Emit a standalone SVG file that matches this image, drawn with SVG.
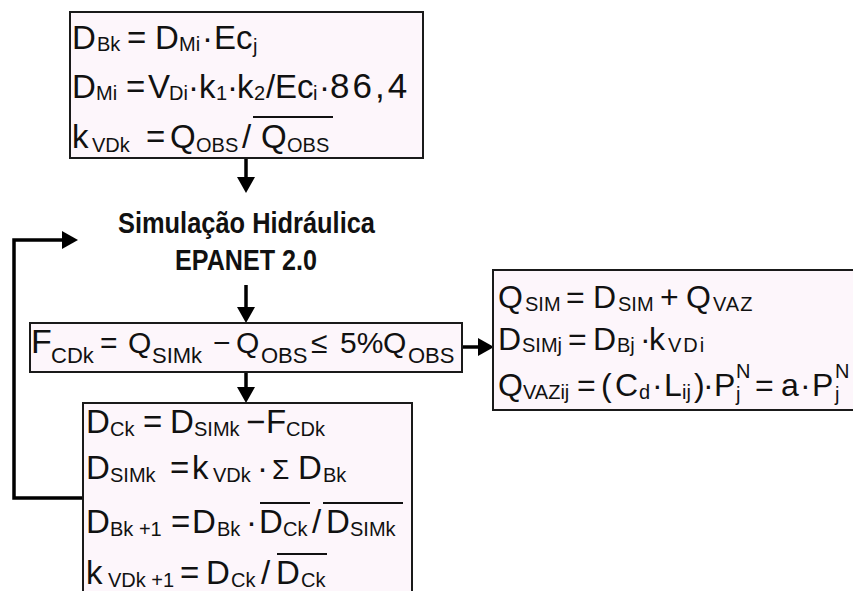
<svg xmlns="http://www.w3.org/2000/svg" width="853" height="591" viewBox="0 0 853 591">
<style>
.box{fill:#fdf6fb;stroke:#1a1a1a;stroke-width:2}
text{font-family:"Liberation Sans",Arial,sans-serif;fill:#111}
.m{font-size:33px}
.s{font-size:20px}
.f{font-size:30px}
.fs{font-size:22px}
.r{font-size:32px}
.t{font-size:29px;font-weight:bold}
.ol{stroke:#111;stroke-width:2}
.conn{fill:none;stroke:#000;stroke-width:3.5}
</style>
<defs>
<marker id="ah" viewBox="0 0 16 18" refX="0" refY="9" markerWidth="16" markerHeight="18" markerUnits="userSpaceOnUse" orient="auto">
<path d="M0,0 L16,9 L0,18 z" fill="#000"/>
</marker>
</defs>

<g id="connectors">
<path class="conn" d="M246 158 V177" marker-end="url(#ah)"/>
<path class="conn" d="M246 285 V307" marker-end="url(#ah)"/>
<path class="conn" d="M246 372 V387" marker-end="url(#ah)"/>
<path class="conn" d="M462 347 H478" marker-end="url(#ah)"/>
<path class="conn" d="M83 498 H14 V240 H62" marker-end="url(#ah)"/>
</g>

<g id="top">
<rect class="box" x="70" y="12" width="353" height="146"/>
<text class="m"><tspan x="72" y="49">D</tspan><tspan class="s" x="97" y="51">Bk</tspan><tspan x="127" y="49">=</tspan><tspan x="155" y="49">D</tspan><tspan class="s" x="179" y="51">Mi</tspan><tspan x="202" y="49">·</tspan><tspan x="214" y="49">Ec</tspan><tspan class="s" x="253" y="53">j</tspan></text>
<text class="m"><tspan x="72" y="98">D</tspan><tspan class="s" x="96" y="100">Mi</tspan><tspan x="126" y="98">=</tspan><tspan x="148" y="98">V</tspan><tspan class="s" x="169" y="100">Di</tspan><tspan x="188" y="98">·</tspan><tspan x="199" y="98">k</tspan><tspan class="s" x="216" y="100">1</tspan><tspan x="227" y="98">·</tspan><tspan x="237" y="98">k</tspan><tspan class="s" x="254" y="100">2</tspan><tspan x="266" y="98">/</tspan><tspan x="275" y="98">Ec</tspan><tspan class="s" x="313" y="100">i</tspan><tspan x="319" y="98">·</tspan><tspan x="330" y="98" style="font-size:35px" letter-spacing="3">86,4</tspan></text>
<text class="m"><tspan x="72" y="148">k</tspan><tspan class="s" x="92" y="152">VDk</tspan><tspan x="146" y="148">=</tspan><tspan x="170" y="148">Q</tspan><tspan class="s" x="196" y="152">OBS</tspan><tspan x="242" y="148">/</tspan><tspan x="261" y="148">Q</tspan><tspan class="s" x="287" y="152">OBS</tspan></text>
<line class="ol" x1="253" y1="117" x2="333" y2="117"/>
</g>

<g id="sim">
<text class="t" x="118" y="233" textLength="257" lengthAdjust="spacingAndGlyphs">Simulação Hidráulica</text>
<text class="t" x="175" y="270" textLength="142" lengthAdjust="spacingAndGlyphs">EPANET 2.0</text>
</g>

<g id="criterio">
<rect class="box" x="30" y="323" width="432" height="49"/>
<text class="f"><tspan x="31" y="353" style="font-size:34px">F</tspan><tspan class="fs" x="51" y="363">CDk</tspan><tspan x="100" y="353">=</tspan><tspan x="128" y="353">Q</tspan><tspan class="fs" x="152" y="363">SIMk</tspan><tspan x="213" y="353">−</tspan><tspan x="236" y="353">Q</tspan><tspan class="fs" x="261" y="363">OBS</tspan><tspan x="311" y="353">≤</tspan><tspan x="340" y="353">5%</tspan><tspan x="383" y="353">Q</tspan><tspan class="fs" x="408" y="363">OBS</tspan></text>
</g>

<g id="vazao">
<rect class="box" x="493" y="270" width="372" height="140"/>
<text class="r"><tspan x="498" y="308">Q</tspan><tspan class="s" x="525" y="311">SIM</tspan><tspan x="566" y="308">=</tspan><tspan x="593" y="308">D</tspan><tspan class="s" x="618" y="311">SIM</tspan><tspan x="660" y="308">+</tspan><tspan x="686" y="308">Q</tspan><tspan class="s" x="713" y="311" letter-spacing="1">VAZ</tspan></text>
<text class="r"><tspan x="498" y="350">D</tspan><tspan class="s" x="522" y="352">SIMj</tspan><tspan x="568" y="350">=</tspan><tspan x="593" y="350">D</tspan><tspan class="s" x="617" y="352">Bj</tspan><tspan x="640" y="350">·</tspan><tspan x="649" y="350">k</tspan><tspan class="s" x="668" y="352" letter-spacing="2">VDi</tspan></text>
<text class="r"><tspan x="498" y="396">Q</tspan><tspan class="s" x="523" y="399">VAZij</tspan><tspan x="577" y="396">=</tspan><tspan x="601" y="396">(</tspan><tspan x="615" y="396">C</tspan><tspan class="s" x="639" y="399">d</tspan><tspan x="652" y="396">·</tspan><tspan x="664" y="396">L</tspan><tspan class="s" x="682" y="399">ij</tspan><tspan x="694" y="396">)</tspan><tspan x="703" y="396">·</tspan><tspan x="714" y="396">P</tspan><tspan class="s" x="736" y="401">j</tspan><tspan class="s" x="736" y="378">N</tspan><tspan x="755" y="396">=</tspan><tspan x="781" y="396">a</tspan><tspan x="800" y="396">·</tspan><tspan x="812" y="396">P</tspan><tspan class="s" x="835" y="401">j</tspan><tspan class="s" x="835" y="378">N</tspan></text>
</g>

<g id="ajuste">
<rect class="box" x="83" y="403" width="329" height="200"/>
<text class="m"><tspan x="86" y="433">D</tspan><tspan class="s" x="110" y="436">Ck</tspan><tspan x="143" y="433">=</tspan><tspan x="170" y="433">D</tspan><tspan class="s" x="194" y="436">SIMk</tspan><tspan x="246" y="433">−</tspan><tspan x="266" y="433">F</tspan><tspan class="s" x="286" y="436">CDk</tspan></text>
<text class="m"><tspan x="86" y="479">D</tspan><tspan class="s" x="110" y="482">SIMk</tspan><tspan x="170" y="479">=</tspan><tspan x="192" y="479">k</tspan><tspan class="s" x="213" y="482">VDk</tspan><tspan x="257" y="479">·</tspan><tspan x="272" y="479" style="font-size:28px">Σ</tspan><tspan x="298" y="479">D</tspan><tspan class="s" x="323" y="482">Bk</tspan></text>
<text class="m"><tspan x="86" y="533">D</tspan><tspan class="s" x="110" y="536">Bk +1</tspan><tspan x="171" y="533">=</tspan><tspan x="192" y="533">D</tspan><tspan class="s" x="217" y="536">Bk</tspan><tspan x="246" y="533">·</tspan><tspan x="259" y="533">D</tspan><tspan class="s" x="283" y="536">Ck</tspan><tspan x="312" y="533">/</tspan><tspan x="326" y="533">D</tspan><tspan class="s" x="350" y="536">SIMk</tspan></text>
<line class="ol" x1="260" y1="503" x2="310" y2="503"/>
<line class="ol" x1="323" y1="503" x2="403" y2="503"/>
<text class="m"><tspan x="86" y="584">k</tspan><tspan class="s" x="108" y="587">VDk +1</tspan><tspan x="180" y="584">=</tspan><tspan x="206" y="584">D</tspan><tspan class="s" x="231" y="587">Ck</tspan><tspan x="261" y="584">/</tspan><tspan x="276" y="584">D</tspan><tspan class="s" x="301" y="587">Ck</tspan></text>
<line class="ol" x1="277" y1="554" x2="327" y2="554"/>
</g>
</svg>
